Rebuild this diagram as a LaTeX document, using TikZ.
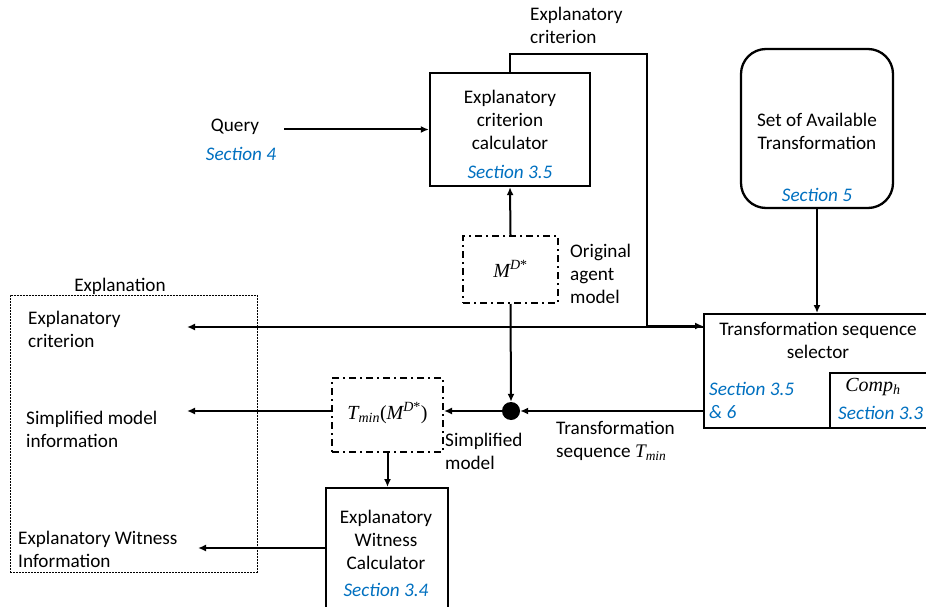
\documentclass[tikz,border=0pt]{standalone}
\usepackage{fontspec}
\setmainfont{Carlito}
\newfontfamily\mfont{Liberation Serif}
\newcommand{\mi}[1]{{\mfont\itshape #1}}
\newcommand{\Msup}{\mi{M}\textsuperscript{\mi{D}\mfont*}}
\usetikzlibrary{arrows.meta}
\definecolor{secblue}{RGB}{0,112,192}
\begin{document}
\begin{tikzpicture}[x=1pt,y=-1pt,
 font=\fontsize{19.2}{23}\selectfont,
 box/.style={draw,line width=2.3pt,inner sep=0pt},
 ddbox/.style={draw,line width=2pt,dash pattern=on 7pt off 4pt on 2pt off 4pt,inner sep=0pt},
 arr/.style={line width=2pt,-{Latex[length=8pt,width=7pt]}},
 sec/.style={text=secblue,font=\fontsize{19.2}{23}\selectfont\itshape,inner sep=0pt},
 mth/.style={inner sep=0pt,font=\fontsize{20}{23}\selectfont},
 txt/.style={inner sep=0pt,align=center},
 ltxt/.style={inner sep=0pt,align=left,anchor=west}]
\useasboundingbox (0,0) rectangle (926,607);
\clip (0,0) rectangle (926,607);

% boxes
\node[box,minimum width=160pt,minimum height=113pt] (calc) at (510,129.5) {};
\node[txt] (calct) at (510,120) {Explanatory\\criterion\\calculator};
\node[sec] (calcs) at (510,172) {Section 3.5};

\node[box,rounded corners=25pt,minimum width=152pt,minimum height=159pt] (set) at (817,128.5) {};
\node[txt] (sett) at (817,131) {Set of Available\\Transformation};
\node[sec] (sets) at (817,195) {Section 5};

\node[box,anchor=north west,minimum width=240pt,minimum height=114pt] (sel) at (703,313) {};
\node[txt] (selt) at (818,340) {Transformation sequence\\selector};
\node[sec,align=left,anchor=west] (sels) at (709,400) {Section 3.5\\\& 6};
\node[box,anchor=north west,minimum width=110pt,minimum height=55pt] (comp) at (829,372) {};
\node[mth] (compt) at (873,387) {\mi{Comp}\textsubscript{\mi{h}}};
\node[sec,anchor=west] (comps) at (838,413) {Section 3.3};

\node[ddbox,minimum width=95pt,minimum height=67pt] (m) at (510.5,269.5) {};
\node[mth] (mt0) at (510.5,269) {\Msup};
\node[ltxt] (mt) at (570,274) {Original\\agent\\model};

\node[circle,fill,minimum size=18pt,inner sep=0pt] (dot) at (511,411) {};

\node[ddbox,minimum width=111pt,minimum height=74pt] (tmin) at (387.5,415) {};
\node[mth] (tmint) at (387.5,413) {\mi{T}\textsubscript{\mi{min}}{\mfont(}\Msup{\mfont)}};
\node[ltxt] (simp) at (445,451) {Simplified\\model};
\node[ltxt] (tseq) at (556,441) {Transformation\\sequence \mi{T}\textsubscript{\mi{min}}};

\node[box,anchor=north west,minimum width=122pt,minimum height=130pt] (wit) at (325,487) {};
\node[txt] (witt) at (386,540) {Explanatory\\Witness\\Calculator};
\node[sec] (wits) at (386,590) {Section 3.4};

\node[draw,line width=0.8pt,dash pattern=on 2pt off 1pt,anchor=north west,minimum width=247pt,minimum height=277pt,inner sep=0pt] (expl) at (10,295) {};
\node[txt] (explt) at (120,286) {Explanation};
\node[ltxt] (e1) at (28,329) {Explanatory\\criterion};
\node[ltxt] (e2) at (26,429) {Simplified model\\information};
\node[ltxt] (e3) at (18,549) {Explanatory Witness\\Information};

\node[txt] (query) at (235,127) {Query};
\node[sec] (querys) at (241,154) {Section 4};
\node[ltxt] (topl) at (530,25) {Explanatory\\criterion};

% connectors
\coordinate (qend) at (284,129.5);
\coordinate (j) at (647,326);
\coordinate (c1) at (510,54);
\coordinate (c2) at (647,54);
\coordinate (e1a) at (187,327);
\coordinate (e2a) at (187,411);
\coordinate (e3a) at (198,548);

\draw[arr] (qend) -- (calc.west);
\draw[arr] (m.north) -- (calc.south);
\draw[arr] (calc.north) -- (c1) -- (c2) -- (j) -- (j -| sel.west);
\draw[arr] (sel.west |- e1a) -- (e1a);
\draw[arr] (set.south) -- (sel.north -| set.south);
\draw[arr] (m.south) -- (dot.north);
\draw[arr] (sel.west |- dot) -- (dot.east);
\draw[arr] (dot.west) -- (tmin.east |- dot);
\draw[arr] (tmin.west |- dot) -- (e2a);
\draw[arr] (tmin.south) -- (wit.north -| tmin.south);
\draw[arr] (wit.west |- e3a) -- (e3a);
\end{tikzpicture}
\end{document}
